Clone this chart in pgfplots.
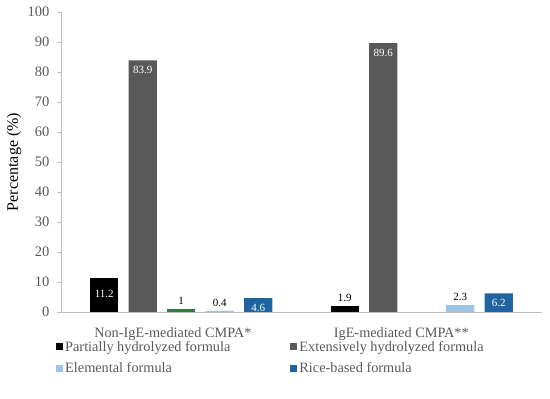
\documentclass[border=0pt]{standalone}
\usepackage{fontspec}
\setmainfont{Liberation Serif}
\usepackage{pgfplots}
\pgfplotsset{compat=1.18}
\definecolor{cgray}{HTML}{595959}
\definecolor{lgray}{HTML}{BFBFBF}
\definecolor{cgreen}{HTML}{2A7D3A}
\definecolor{clight}{HTML}{9DC3E6}
\definecolor{cblue}{HTML}{1F64A0}
\begin{document}
\begin{tikzpicture}
\path[use as bounding box] (-61pt,-87pt) rectangle (489pt,312pt);
\begin{axis}[
  at={(0,0)}, anchor=south west,
  scale only axis, width=481pt, height=300pt,
  xmin=-0.5, xmax=1.5, ymin=0, ymax=100,
  xtick={-0.035,0.915},
  xticklabels={Non-IgE-mediated CMPA*, IgE-mediated CMPA**},
  ytick={0,10,...,100},
  axis x line*=bottom, axis y line*=left,
  axis line style={draw=lgray, line width=0.8pt},
  xtick style={draw=none},
  ytick style={draw=lgray, line width=0.8pt},
  tick align=outside, major tick length=4pt,
  /pgf/number format/assume math mode=true,
  yticklabel style={font=\fontsize{14.5}{14.5}\selectfont, text=cgray, xshift=-4pt},
  xticklabel style={font=\fontsize{14.3}{14.3}\selectfont, text=cgray, yshift=-8pt},
  ylabel={Percentage (\%)},
  every axis y label/.style={at={(axis description cs:0,0.5)}, xshift=-47pt,
    rotate=90, anchor=center, font=\fontsize{16}{16}\selectfont, text=black},
  bar width=0.118,
  legend columns=2,
  legend style={at={(0,0)}, anchor=north west, xshift=-5pt, yshift=-27pt,
    draw=none, fill=none, inner sep=0pt, row sep=6pt,
    font=\fontsize{14.3}{14.3}\selectfont, text=cgray,
    nodes={inner xsep=2pt},
    /tikz/every even column/.append style={column sep=58pt}},
  legend cell align=left,
  legend image code/.code={\fill[#1] (0pt,-3.5pt) rectangle (7pt,3.5pt);},
  every node near coord/.append style={font=\fontsize{11}{11}\selectfont},
]
% Partially hydrolyzed formula
\addplot[ybar, bar shift=0pt, fill=black, draw=none,
  nodes near coords, nodes near coords style={text=white, anchor=north, yshift=-8pt}]
  coordinates {(-0.32,11.2)};
\addlegendentry{Partially hydrolyzed formula}
% Extensively hydrolyzed formula
\addplot[ybar, bar shift=0pt, fill=cgray, draw=none,
  nodes near coords, nodes near coords style={text=white, anchor=north, yshift=-2pt}]
  coordinates {(-0.16,83.9) (0.84,89.6)};
\addlegendentry{Extensively hydrolyzed formula}
% Elemental formula
\addplot[ybar, bar shift=0pt, fill=clight, draw=none,
  nodes near coords, nodes near coords style={text=black, anchor=south, yshift=1pt}]
  coordinates {(0.16,0.4) (1.16,2.3)};
\addlegendentry{Elemental formula}
% Rice-based formula
\addplot[ybar, bar shift=0pt, fill=cblue, draw=none,
  nodes near coords, nodes near coords style={text=white, anchor=north, yshift=-2pt}]
  coordinates {(0.32,4.6) (1.32,6.2)};
\addlegendentry{Rice-based formula}
% Partially hydrolyzed, small value (label above)
\addplot[ybar, bar shift=0pt, fill=black, draw=none, forget plot,
  nodes near coords, nodes near coords style={text=black, anchor=south, yshift=1pt}]
  coordinates {(0.68,1.9)};
% unlabelled green series
\addplot[ybar, bar shift=0pt, fill=cgreen, draw=none, forget plot,
  nodes near coords, nodes near coords style={text=black, anchor=south, yshift=1pt}]
  coordinates {(0,1)};
\end{axis}
\end{tikzpicture}
\end{document}
